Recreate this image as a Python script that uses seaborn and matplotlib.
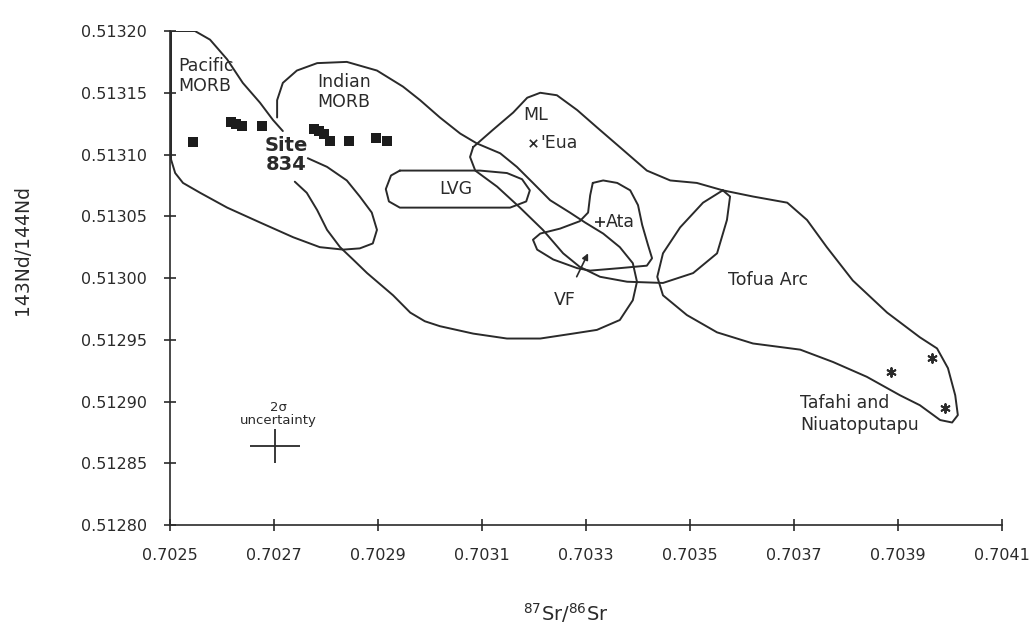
import matplotlib
matplotlib.use("Agg")
import matplotlib.pyplot as plt
import seaborn as sns
from matplotlib.ticker import FormatStrFormatter

# -------------------- Data --------------------
# Site 834 basalts
site834_sr = [0.702544, 0.702617, 0.702627, 0.702638, 0.702677, 0.702777,
              0.702787, 0.702796, 0.702808, 0.702844, 0.702896, 0.702917]
site834_nd = [0.513110, 0.513126, 0.513125, 0.513123, 0.513123, 0.513121,
              0.513119, 0.513117, 0.513111, 0.513111, 0.513113, 0.513111]

# Tafahi and Niuatoputapu samples
tafahi_sr = [0.703965, 0.703887, 0.703990]
tafahi_nd = [0.512935, 0.512924, 0.512895]

# single samples
eua_sr, eua_nd = [0.703198], [0.513109]
ata_sr, ata_nd = [0.703327], [0.513045]

# 2 sigma uncertainty
unc_sr, unc_nd = 0.702702, 0.512864
unc_sr_err, unc_nd_err = 0.000048, 0.0000134

# field outlines
pacific_sr = [0.702765, 0.702802, 0.702840, 0.702865, 0.702888, 0.702898, 0.702890,
              0.702865, 0.702833, 0.702788, 0.702737, 0.702673, 0.702610, 0.702558,
              0.702525, 0.702510, 0.702502, 0.702502, 0.702548, 0.702577, 0.702610,
              0.702640, 0.702673, 0.702698, 0.702717]
pacific_nd = [0.513097, 0.513090, 0.513079, 0.513066, 0.513053, 0.513039, 0.513028,
              0.513024, 0.513023, 0.513025, 0.513033, 0.513045, 0.513057, 0.513069,
              0.513077, 0.513085, 0.513096, 0.513200, 0.513200, 0.513193, 0.513177,
              0.513158, 0.513142, 0.513128, 0.513119]

indian_sr = [0.702706, 0.702706, 0.702717, 0.702744, 0.702783, 0.702840, 0.702898,
             0.702948, 0.702981, 0.703019, 0.703058, 0.703090, 0.703135, 0.703167,
             0.703198, 0.703231, 0.703269, 0.703298, 0.703333, 0.703365, 0.703390,
             0.703398, 0.703390, 0.703365, 0.703321, 0.703275, 0.703212, 0.703148,
             0.703083, 0.703019, 0.702990, 0.702962, 0.702929, 0.702879, 0.702852,
             0.702827, 0.702802, 0.702783, 0.702763, 0.702740]
indian_nd = [0.513130, 0.513144, 0.513158, 0.513168, 0.513174, 0.513175, 0.513168,
             0.513155, 0.513144, 0.513130, 0.513117, 0.513109, 0.513101, 0.513090,
             0.513077, 0.513063, 0.513053, 0.513045, 0.513036, 0.513025, 0.513012,
             0.512997, 0.512982, 0.512966, 0.512958, 0.512955, 0.512951, 0.512951,
             0.512955, 0.512961, 0.512965, 0.512972, 0.512986, 0.513004, 0.513015,
             0.513025, 0.513039, 0.513055, 0.513069, 0.513078]

lvg_sr = [0.702942, 0.703019, 0.703096, 0.703148, 0.703177, 0.703192, 0.703185,
          0.703154, 0.703077, 0.703000, 0.702942, 0.702921, 0.702915, 0.702925]
lvg_nd = [0.513087, 0.513087, 0.513087, 0.513085, 0.513080, 0.513071, 0.513062,
          0.513057, 0.513057, 0.513057, 0.513057, 0.513062, 0.513072, 0.513083]

ml_sr = [0.703083, 0.703121, 0.703160, 0.703187, 0.703212, 0.703244, 0.703283,
         0.703321, 0.703365, 0.703417, 0.703462, 0.703513, 0.703563, 0.703577,
         0.703571, 0.703552, 0.703506, 0.703448, 0.703379, 0.703327, 0.703288,
         0.703256, 0.703217, 0.703173, 0.703129, 0.703087, 0.703077]
ml_nd = [0.513106, 0.513120, 0.513134, 0.513146, 0.513150, 0.513148, 0.513136,
         0.513122, 0.513106, 0.513087, 0.513079, 0.513077, 0.513071, 0.513066,
         0.513047, 0.513020, 0.513004, 0.512996, 0.512997, 0.513001, 0.513009,
         0.513020, 0.513039, 0.513057, 0.513074, 0.513087, 0.513098]

ata_vf_sr = [0.703313, 0.703333, 0.703360, 0.703385, 0.703400, 0.703408, 0.703419,
             0.703427, 0.703417, 0.703365, 0.703308, 0.703283, 0.703237, 0.703206,
             0.703198, 0.703212, 0.703250, 0.703288, 0.703304, 0.703308]
ata_vf_nd = [0.513077, 0.513079, 0.513077, 0.513071, 0.513059, 0.513043, 0.513027,
             0.513016, 0.513010, 0.513008, 0.513006, 0.513008, 0.513015, 0.513023,
             0.513031, 0.513036, 0.513040, 0.513046, 0.513053, 0.513067]

tofua_sr = [0.703563, 0.703621, 0.703687, 0.703725, 0.703763, 0.703813, 0.703879,
            0.703942, 0.703975, 0.703996, 0.704010, 0.704015, 0.704004, 0.703981,
            0.703942, 0.703904, 0.703840, 0.703775, 0.703712, 0.703621, 0.703552,
            0.703494, 0.703448, 0.703437, 0.703448, 0.703481, 0.703525]
tofua_nd = [0.513071, 0.513066, 0.513061, 0.513047, 0.513025, 0.512998, 0.512972,
            0.512952, 0.512943, 0.512927, 0.512905, 0.512889, 0.512883, 0.512885,
            0.512897, 0.512905, 0.512920, 0.512932, 0.512942, 0.512947, 0.512956,
            0.512970, 0.512986, 0.513001, 0.513020, 0.513041, 0.513061]

x_ticks = [0.7025, 0.7027, 0.7029, 0.7031, 0.7033, 0.7035, 0.7037, 0.7039, 0.7041]
y_ticks = [0.51280, 0.51285, 0.51290, 0.51295, 0.51300, 0.51305, 0.51310, 0.51315, 0.51320]

# -------------------- Style --------------------
sns.set_style("ticks")
plt.rcParams["font.family"] = ["DejaVu Sans"]
ink = "#2a2a2a"

fig = plt.figure(figsize=(10.29, 6.37), dpi=100)
ax = fig.add_axes([0.1652, 0.1758, 0.8086, 0.7755])


def outline(xs, ys, closed=True):
    if closed:
        xs = list(xs) + [xs[0]]
        ys = list(ys) + [ys[0]]
    sns.lineplot(x=xs, y=ys, sort=False, estimator=None, ax=ax,
                 color=ink, lw=1.4)


# -------------------- Fields --------------------
outline(pacific_sr, pacific_nd, closed=False)
outline(indian_sr, indian_nd, closed=False)
outline(lvg_sr, lvg_nd)
outline(ml_sr, ml_nd)
outline(ata_vf_sr, ata_vf_nd)
outline(tofua_sr, tofua_nd)

# -------------------- Samples --------------------
sns.scatterplot(x=site834_sr, y=site834_nd, marker="s", s=52, color="#1c1c1c",
                edgecolor="none", ax=ax, zorder=5)
sns.scatterplot(x=tafahi_sr, y=tafahi_nd, marker=(6, 2, 0), s=40, color=ink,
                linewidth=1.4, ax=ax, zorder=5)
ax.scatter(eua_sr, eua_nd, marker="x", s=28, color=ink, linewidth=1.2, zorder=5)
ax.scatter(ata_sr, ata_nd, marker="+", s=50, color=ink, linewidth=1.2, zorder=5)

ax.errorbar(unc_sr, unc_nd, xerr=unc_sr_err, yerr=unc_nd_err, fmt="none",
            ecolor=ink, elinewidth=1.3, capsize=0)

# -------------------- Labels --------------------
txt = dict(color=ink, fontsize=12.5)
ax.text(0.702515, 0.513179, "Pacific\nMORB", ha="left", va="top", linespacing=1.15, **txt)
ax.text(0.702783, 0.513166, "Indian\nMORB", ha="left", va="top", linespacing=1.15, **txt)
ax.text(0.702723, 0.513100, "Site\n834", ha="center", va="center", linespacing=1.0,
        color=ink, fontsize=14, fontweight="bold")
ax.text(0.703050, 0.513072, "LVG", ha="center", va="center", **txt)
ax.text(0.703204, 0.513132, "ML", ha="center", va="center", **txt)
ax.text(0.703213, 0.513109, "'Eua", ha="left", va="center", **txt)
ax.text(0.703338, 0.513045, "Ata", ha="left", va="center", **txt)
ax.annotate("VF", xy=(0.703304, 0.513020), xytext=(0.703260, 0.512982),
            ha="center", va="center", color=ink, fontsize=12.5,
            arrowprops=dict(arrowstyle="-|>", color=ink, lw=1.2,
                            mutation_scale=9, shrinkA=9, shrinkB=0))
ax.text(0.703650, 0.512998, "Tofua Arc", ha="center", va="center", **txt)
ax.text(0.703712, 0.512906, "Tafahi and\nNiuatoputapu", ha="left", va="top",
        linespacing=1.3, **txt)
ax.text(0.702708, 0.512879, "2σ\nuncertainty", ha="center", va="bottom",
        color=ink, fontsize=9.5, linespacing=1.0)

# -------------------- Axes --------------------
ax.set_xlim(x_ticks[0], x_ticks[-1])
ax.set_ylim(y_ticks[0], y_ticks[-1])
ax.set_xticks(x_ticks)
ax.set_yticks(y_ticks)
ax.xaxis.set_major_formatter(FormatStrFormatter("%.4f"))
ax.yaxis.set_major_formatter(FormatStrFormatter("%.5f"))
ax.tick_params(direction="inout", length=9, width=1.2, colors=ink,
               labelsize=11.5, pad=12)

for side in ["top", "right"]:
    ax.spines[side].set_visible(False)
for side in ["left", "bottom"]:
    ax.spines[side].set_color(ink)
    ax.spines[side].set_linewidth(1.2)

ax.set_xlabel(r"$^{87}$Sr/$^{86}$Sr", fontsize=14, color=ink)
ax.set_ylabel("143Nd/144Nd", fontsize=13.5, color=ink)
ax.xaxis.set_label_coords(0.476, -0.155)
ax.yaxis.set_label_coords(-0.166, 0.557)

fig.savefig("out.png", dpi=100)
plt.close(fig)
